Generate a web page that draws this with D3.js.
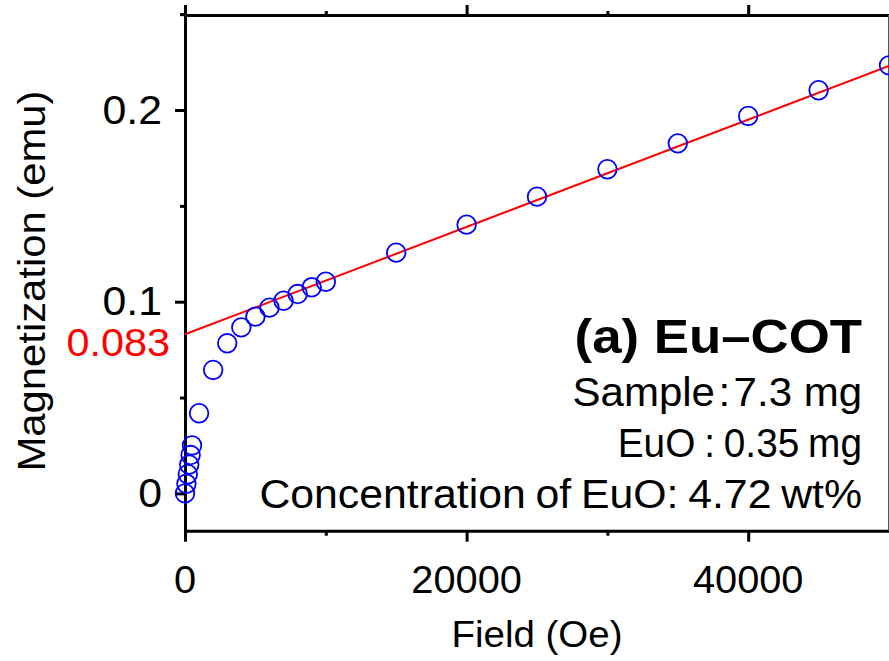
<!DOCTYPE html>
<html>
<head>
<meta charset="utf-8">
<script src="https://cdn.jsdelivr.net/npm/d3@7"></script>
<style>
  html, body { margin: 0; padding: 0; background: #fff; }
  svg { display: block; }
  text { font-family: "Liberation Sans", Arial, Helvetica, sans-serif; }
</style>
</head>
<body>
<svg id="chart" width="889" height="661"></svg>
<script>
// Field sweep (Oe) and measured magnetization (emu)
const field = [0, 100, 200, 300, 400, 500, 1000, 2000, 3000, 4000, 5000, 6000, 7000, 8000, 9000, 10000,
               15000, 20000, 25000, 30000, 35000, 40000, 45000, 50000];
const moment = [0.000, 0.005, 0.010, 0.015, 0.020, 0.025, 0.0418, 0.0644, 0.0783, 0.0866, 0.0922, 0.0969,
                0.1005, 0.1040, 0.1075, 0.1104, 0.1256, 0.1402, 0.1548, 0.1691, 0.1826, 0.1969, 0.2103, 0.2233];

// Linear high-field fit: M = intercept + slope * H
const fitIntercept = 0.083;
const fitSlope = 2.8e-6;
const fitRange = [0, 50000];

// Axis ticks
const xMajor = [0, 20000, 40000];
const xMinor = [10000, 30000];
const yMajor = [0, 0.1, 0.2];
const yMinor = [0.05, 0.15, 0.25];
const yTickLabels = ["0", "0.1", "0.2"];

// Text annotations
const panelTitle = "(a) Eu\u2013COT";
const infoLines = ["Sample\u200a:\u200a7.3 mg", "EuO : 0.35 mg", "Concentration of EuO: 4.72 wt%"];

const svg = d3.select("#chart");
const m = { left: 185, top: 15, right: 889, bottom: 530.7 };

const x = d3.scaleLinear().domain([0, 50000]).range([m.left, m.right]);
const y = d3.scaleLinear().domain([-0.01946, 0.24956]).range([m.bottom, m.top]);

const black = "#000";

function styleAxis(g) {
  g.select(".domain").attr("stroke", black).attr("stroke-width", 3);
  g.selectAll(".tick line").attr("stroke", black).attr("stroke-width", 3);
  g.selectAll(".tick text").remove();
}

// bottom axis
svg.append("g").attr("transform", `translate(0,${m.bottom})`)
  .call(d3.axisBottom(x).tickValues(xMajor).tickSize(11).tickSizeOuter(0)).call(styleAxis);
svg.append("g").attr("transform", `translate(0,${m.bottom})`)
  .call(d3.axisBottom(x).tickValues(xMinor).tickSize(5).tickSizeOuter(0)).call(styleAxis)
  .select(".domain").remove();

// top axis
svg.append("g").attr("transform", `translate(0,${m.top})`)
  .call(d3.axisTop(x).tickValues(xMajor).tickSize(10).tickSizeOuter(0)).call(styleAxis);
svg.append("g").attr("transform", `translate(0,${m.top})`)
  .call(d3.axisTop(x).tickValues(xMinor).tickSize(4).tickSizeOuter(0)).call(styleAxis)
  .select(".domain").remove();

// left axis
svg.append("g").attr("transform", `translate(${m.left},0)`)
  .call(d3.axisLeft(y).tickValues(yMajor).tickSize(10).tickSizeOuter(0)).call(styleAxis);
svg.append("g").attr("transform", `translate(${m.left},0)`)
  .call(d3.axisLeft(y).tickValues(yMinor).tickSize(5).tickSizeOuter(0)).call(styleAxis)
  .select(".domain").remove();

// thin right frame edge
svg.append("line")
  .attr("x1", m.right - 0.5).attr("x2", m.right - 0.5)
  .attr("y1", m.top).attr("y2", m.bottom)
  .attr("stroke", "#555").attr("stroke-width", 1);

// fit line
svg.append("line")
  .attr("x1", x(fitRange[0])).attr("y1", y(fitIntercept + fitSlope * fitRange[0]))
  .attr("x2", x(fitRange[1])).attr("y2", y(fitIntercept + fitSlope * fitRange[1]))
  .attr("stroke", "#ff0000").attr("stroke-width", 2);

// data points
svg.append("g").selectAll("circle")
  .data(field.map((h, i) => ({ h, mv: moment[i] })))
  .join("circle")
  .attr("cx", d => x(d.h)).attr("cy", d => y(d.mv))
  .attr("r", 9.3)
  .attr("fill", "none").attr("stroke", "#0000ff").attr("stroke-width", 1.8);

// text helper: labels drawn slightly wide
function label(txt, px, py, anchor, size, opts = {}) {
  const sx = opts.sx || 1.04;
  const rot = opts.rotate ? " rotate(-90)" : "";
  const t = svg.append("text")
    .attr("transform", `translate(${px},${py})${rot} scale(${sx},1)`)
    .attr("text-anchor", anchor)
    .attr("dominant-baseline", "central")
    .attr("font-size", size)
    .attr("fill", opts.fill || black)
    .text(txt);
  if (opts.bold) t.attr("font-weight", "bold");
  if (opts.wordSpacing) t.attr("word-spacing", opts.wordSpacing);
  return t;
}

xMajor.forEach(v => label(String(v), x(v), 579, "middle", 39, { sx: 1.02 }));
yMajor.forEach((v, i) => label(yTickLabels[i], 162, y(v), "end", 40, { sx: 1.07 }));
label(String(fitIntercept), 170, 343, "end", 38, { fill: "#ff0000", sx: 1.09 });

label("Field (Oe)", 537, 634, "middle", 37, { sx: 1.04 });
label("Magnetization (emu)", 32, 281, "middle", 38, { rotate: true, sx: 1.1 });

label(panelTitle, 862, 336, "end", 48, { bold: true, sx: 1.1 });
label(infoLines[0], 862, 392, "end", 40, { sx: 1.05 });
label(infoLines[1], 862, 443, "end", 40, { sx: 0.97, wordSpacing: -2 });
label(infoLines[2], 862, 494, "end", 40, { sx: 1.07, wordSpacing: -2 });
</script>
</body>
</html>
